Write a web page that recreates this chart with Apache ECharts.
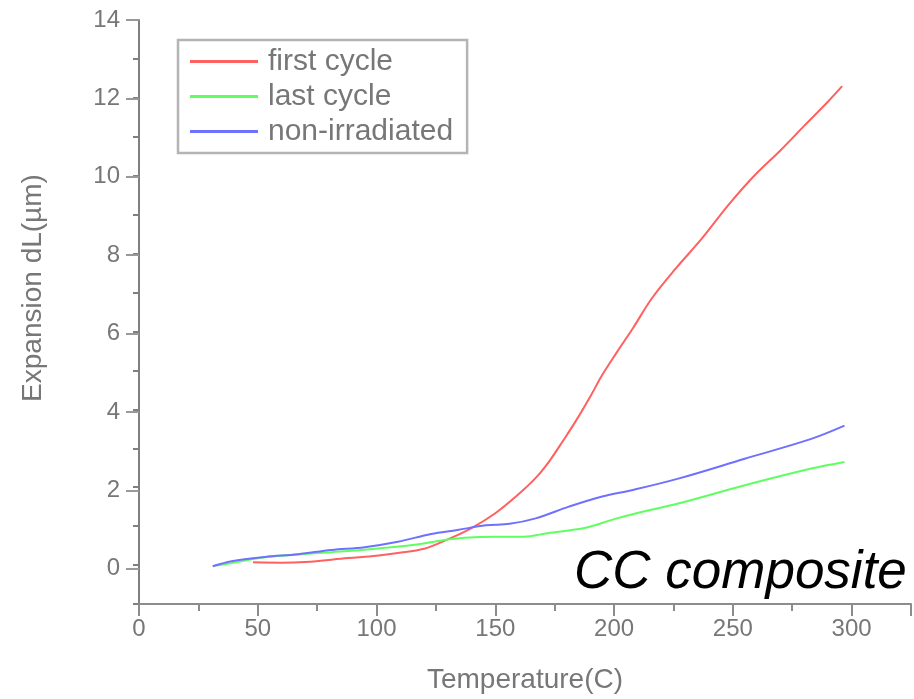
<!DOCTYPE html>
<html>
<head>
<meta charset="utf-8">
<script src="https://cdn.jsdelivr.net/npm/echarts@6/dist/echarts.min.js"></script>
<style>
  * { margin: 0; padding: 0; }
  html, body { background: #fff; }
  #main { width: 914px; height: 699px; }
</style>
</head>
<body>
<div id="main"></div>
<script>
  // temperature (C) / expansion (um)
  var firstT = [48, 60, 70, 88, 100, 109, 120, 130, 140, 150, 160, 167.5, 173, 178.6, 184, 190, 195, 201, 208, 216, 226, 237, 248, 259, 270, 280, 290, 296];
  var firstV = [0.07, 0.06, 0.08, 0.18, 0.24, 0.31, 0.42, 0.66, 0.95, 1.33, 1.83, 2.27, 2.69, 3.2, 3.71, 4.33, 4.88, 5.45, 6.09, 6.86, 7.62, 8.39, 9.24, 10.0, 10.65, 11.28, 11.9, 12.3];

  var lastT = [32, 39, 53, 67, 81, 96, 116, 126, 137, 150, 162, 172, 188, 200, 212, 227, 255, 283, 297];
  var lastV = [-0.02, 0.05, 0.2, 0.27, 0.33, 0.4, 0.52, 0.62, 0.7, 0.73, 0.73, 0.82, 0.96, 1.18, 1.37, 1.58, 2.05, 2.48, 2.65];

  var nonT = [31, 39, 53, 67, 81, 95, 109, 123, 134, 146, 156, 167, 181, 195, 208, 227, 255, 283, 297];
  var nonV = [-0.03, 0.1, 0.21, 0.28, 0.39, 0.46, 0.6, 0.8, 0.9, 1.02, 1.06, 1.2, 1.5, 1.76, 1.93, 2.22, 2.73, 3.24, 3.58];

  var seriesNames = ['first cycle', 'last cycle', 'non-irradiated'];
  var seriesColors = ['#ff6060', '#60ff60', '#7070ff'];

  function pairs(xs, ys) {
    var out = [];
    xs.forEach(function (x, i) { out.push([x, ys[i]]); });
    return out;
  }

  function lineSeries(i, xs, ys) {
    return {
      name: seriesNames[i], type: 'line',
      smooth: 0.35,
      showSymbol: false, symbol: 'none',
      xAxisIndex: 0, yAxisIndex: 0,
      lineStyle: { color: seriesColors[i], width: 2 },
      itemStyle: { color: seriesColors[i] },
      data: pairs(xs, ys)
    };
  }

  var font = "'Liberation Sans', Arial, sans-serif";
  var chart = echarts.init(document.getElementById('main'));

  chart.setOption({
    animation: false,
    grid: [
      { left: 139, top: 20, width: 778, height: 588 },
      // second grid only carries the long ticks and labels of the y axis (0..14)
      { left: 139, top: 20, width: 778, height: 548.8 }
    ],
    legend: {
      orient: 'vertical',
      left: 178,
      top: 40,
      padding: [4, 14, 4, 12],
      borderColor: '#b4b4b4',
      borderWidth: 2.5,
      icon: 'rect',
      itemWidth: 68,
      itemHeight: 3,
      itemGap: 0,
      textStyle: { fontFamily: font, fontSize: 30, color: '#777', lineHeight: 35, padding: [0, 0, 0, 5] },
      data: seriesNames
    },
    xAxis: [
      {
        type: 'value', gridIndex: 0, position: 'bottom',
        min: 0, max: 325, interval: 25,
        name: 'Temperature(C)', nameLocation: 'middle', nameGap: 62,
        nameTextStyle: { fontFamily: font, fontSize: 28, color: '#777' },
        axisLine: { show: true, onZero: false, lineStyle: { color: '#8c8c8c', width: 2 } },
        axisTick: { show: true, length: 7, lineStyle: { color: '#8c8c8c', width: 2 } },
        axisLabel: { show: false },
        splitLine: { show: false }
      },
      {
        type: 'value', gridIndex: 0, position: 'bottom',
        min: 0, max: 325, interval: 50,
        axisLine: { show: false, onZero: false },
        axisTick: { show: true, length: 12, lineStyle: { color: '#8c8c8c', width: 2 } },
        axisLabel: {
          margin: 13, fontFamily: font, fontSize: 24, color: '#777',
          formatter: function (v) { return v % 50 === 0 ? String(v) : ''; }
        },
        splitLine: { show: false }
      },
      {
        type: 'value', gridIndex: 1, min: 0, max: 325, show: false,
        axisLine: { onZero: false }
      }
    ],
    yAxis: [
      {
        type: 'value', gridIndex: 0,
        min: -1, max: 14, interval: 1,
        axisLine: { show: true, onZero: false, lineStyle: { color: '#808080', width: 2 } },
        axisTick: { show: true, length: 6, lineStyle: { color: '#808080', width: 2 } },
        axisLabel: { show: false },
        splitLine: { show: false }
      },
      {
        type: 'value', gridIndex: 1,
        min: 0, max: 14, interval: 2,
        axisLine: { show: false, onZero: false },
        axisTick: { show: true, length: 13, lineStyle: { color: '#999', width: 2 } },
        axisLabel: { margin: 19, fontFamily: font, fontSize: 24, color: '#777' },
        splitLine: { show: false }
      }
    ],
    graphic: [
      {
        type: 'text', x: 33, y: 288, rotation: Math.PI / 2,
        style: {
          text: 'Expansion dL(\u00b5m)', fill: '#777',
          font: '28px ' + font, textAlign: 'center', textVerticalAlign: 'middle'
        }
      },
      {
        type: 'text', left: 574, top: 547,
        style: {
          text: 'CC composite', fill: '#000',
          font: 'italic 53px ' + font
        }
      }
    ],
    series: [
      lineSeries(0, firstT, firstV),
      lineSeries(1, lastT, lastV),
      lineSeries(2, nonT, nonV)
    ]
  });
</script>
</body>
</html>
